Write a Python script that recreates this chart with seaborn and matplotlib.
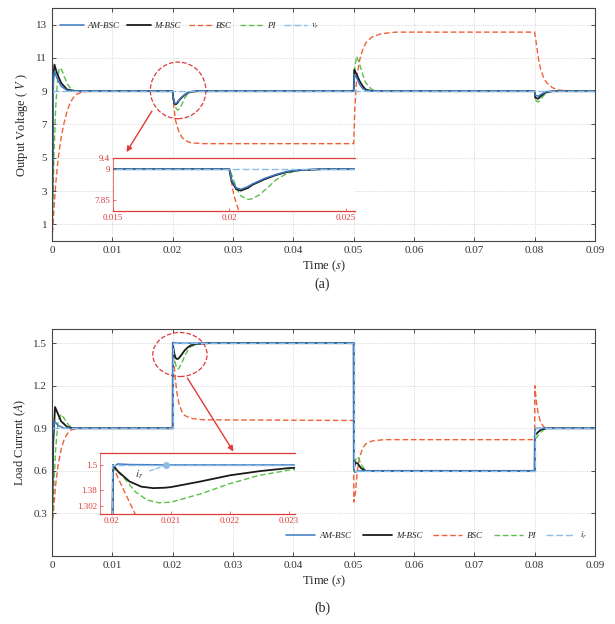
import matplotlib
matplotlib.use("Agg")
import matplotlib.pyplot as plt
from matplotlib.patches import Ellipse
from matplotlib.font_manager import FontProperties
import seaborn as sns

# ---------------- data: output voltage (a) ----------------
t_ref_v = [0, 0.09]
v_ref = [9, 9]

t_am_v = [0, 0.0002, 0.0004, 0.0008, 0.0015, 0.0025, 0.004, 0.02, 0.0201, 0.0203, 0.0205, 0.0208,
          0.021, 0.0215, 0.022, 0.0225, 0.023, 0.024, 0.05, 0.0501, 0.0505, 0.051, 0.0515, 0.052,
          0.053, 0.08, 0.0801, 0.0806, 0.081, 0.0815, 0.082, 0.083, 0.09]
v_am = [0, 9.5, 10.2, 9.8, 9.3, 9.05, 9.0, 9.0, 8.6, 8.3, 8.25, 8.35,
        8.45, 8.65, 8.8, 8.92, 8.97, 9.0, 9.0, 10.0, 9.8, 9.4, 9.15, 9.05,
        9.0, 9.0, 8.75, 8.7, 8.8, 8.9, 8.97, 9.0, 9.0]

t_m_v = [0, 0.0002, 0.0004, 0.0008, 0.0015, 0.0025, 0.004, 0.02, 0.0201, 0.0203, 0.0205, 0.0208,
         0.021, 0.0215, 0.022, 0.0225, 0.023, 0.024, 0.05, 0.0501, 0.0505, 0.051, 0.0515, 0.052,
         0.053, 0.054, 0.08, 0.0801, 0.0806, 0.081, 0.0815, 0.082, 0.083, 0.09]
v_m = [0, 9.8, 10.6, 10.1, 9.5, 9.1, 9.0, 9.0, 8.55, 8.25, 8.2, 8.3,
       8.42, 8.62, 8.78, 8.9, 8.96, 9.0, 9.0, 10.3, 10.0, 9.6, 9.3, 9.1,
       9.01, 9.0, 9.0, 8.6, 8.55, 8.7, 8.85, 8.95, 9.0, 9.0]

t_bsc_v = [0, 0.0003, 0.0006, 0.001, 0.0015, 0.002, 0.0025, 0.003, 0.0035, 0.004, 0.005, 0.006,
           0.02, 0.0202, 0.0205, 0.021, 0.0215, 0.022, 0.023, 0.025, 0.05, 0.0502, 0.0505, 0.051,
           0.0515, 0.052, 0.053, 0.0545, 0.057, 0.08, 0.0803, 0.0806, 0.081, 0.0815, 0.082, 0.083,
           0.084, 0.086, 0.09]
v_bsc = [0, 1.8, 3.4, 4.9, 6.2, 7.1, 7.8, 8.3, 8.6, 8.8, 8.95, 9.0,
         9.0, 8.0, 7.2, 6.6, 6.25, 6.05, 5.9, 5.85, 5.85, 8.0, 9.8, 10.9,
         11.5, 11.9, 12.25, 12.45, 12.55, 12.55, 11.8, 11.0, 10.3, 9.8, 9.5, 9.2,
         9.07, 9.0, 9.0]

t_pi_v = [0, 0.0003, 0.0006, 0.0009, 0.0012, 0.0016, 0.002, 0.0026, 0.0032, 0.004, 0.02, 0.0201,
          0.0203, 0.0205, 0.0208, 0.021, 0.0213, 0.0217, 0.022, 0.0225, 0.023, 0.024, 0.05, 0.0502,
          0.0505, 0.051, 0.0515, 0.052, 0.053, 0.054, 0.08, 0.0802, 0.0806, 0.081, 0.0815, 0.082,
          0.083, 0.09]
v_pi = [0, 5.0, 8.0, 9.6, 10.4, 10.3, 9.9, 9.4, 9.1, 9.0, 9.0, 8.8,
        8.3, 8.0, 7.87, 7.9, 8.05, 8.35, 8.6, 8.85, 8.96, 9.0, 9.0, 10.5,
        11.1, 10.6, 10.0, 9.5, 9.1, 9.0, 9.0, 8.45, 8.35, 8.5, 8.75, 8.9,
        9.0, 9.0]

# ---------------- data: load current (b) ----------------
t_ref_i = [0, 0.02, 0.02, 0.05, 0.05, 0.08, 0.08, 0.09]
i_ref = [0.9, 0.9, 1.5, 1.5, 0.6, 0.6, 0.9, 0.9]

t_am_i = [0, 0.0001, 0.0004, 0.001, 0.002, 0.02, 0.02002, 0.0201, 0.0203, 0.021, 0.05, 0.05002,
          0.0502, 0.0508, 0.08, 0.08002, 0.0802, 0.09]
i_am = [0.15, 0.85, 0.95, 0.92, 0.9, 0.9, 1.49, 1.505, 1.502, 1.5, 1.5, 0.62,
        0.59, 0.6, 0.6, 0.88, 0.9, 0.9]

t_m_i = [0, 0.0002, 0.0005, 0.001, 0.0015, 0.0025, 0.0035, 0.02, 0.02002, 0.0201, 0.0203, 0.0205,
         0.0207, 0.0209, 0.021, 0.0215, 0.022, 0.0225, 0.023, 0.024, 0.026, 0.05, 0.05002, 0.0503,
         0.0507, 0.0512, 0.052, 0.08, 0.08002, 0.0805, 0.081, 0.082, 0.09]
i_m = [0.2, 0.8, 1.05, 1.0, 0.95, 0.91, 0.9, 0.9, 1.5, 1.47, 1.42, 1.395,
       1.388, 1.39, 1.393, 1.42, 1.45, 1.47, 1.485, 1.495, 1.5, 1.5, 0.62, 0.66,
       0.65, 0.62, 0.6, 0.6, 0.85, 0.87, 0.89, 0.9, 0.9]

t_bsc_i = [0, 0.0003, 0.0006, 0.001, 0.0015, 0.002, 0.0025, 0.003, 0.004, 0.02, 0.02002, 0.0202,
           0.0204, 0.0207, 0.021, 0.0215, 0.022, 0.023, 0.025, 0.05, 0.05002, 0.0503, 0.0506, 0.051,
           0.0515, 0.052, 0.053, 0.055, 0.08, 0.08002, 0.0803, 0.0806, 0.081, 0.0815, 0.082, 0.09]
i_bsc = [0.2, 0.35, 0.5, 0.64, 0.75, 0.82, 0.86, 0.885, 0.9, 0.9, 1.49, 1.38,
         1.26, 1.15, 1.08, 1.02, 0.99, 0.97, 0.96, 0.955, 0.38, 0.45, 0.6, 0.7,
         0.76, 0.79, 0.81, 0.82, 0.82, 1.2, 1.08, 1.0, 0.94, 0.91, 0.9, 0.9]

t_pi_i = [0, 0.0003, 0.0006, 0.001, 0.0015, 0.002, 0.0028, 0.0035, 0.02, 0.02002, 0.0202, 0.0204,
          0.0206, 0.0208, 0.021, 0.0215, 0.022, 0.0225, 0.023, 0.024, 0.026, 0.05, 0.05002, 0.0503,
          0.0507, 0.0512, 0.0518, 0.0525, 0.08, 0.08002, 0.0804, 0.081, 0.0815, 0.082, 0.09]
i_pi = [0.2, 0.5, 0.75, 0.95, 1.0, 0.97, 0.92, 0.9, 0.9, 1.49, 1.44, 1.37,
        1.33, 1.317, 1.32, 1.36, 1.41, 1.45, 1.475, 1.495, 1.5, 1.5, 0.6, 0.68,
        0.7, 0.65, 0.61, 0.6, 0.6, 0.82, 0.84, 0.87, 0.89, 0.9, 0.9]

x_ticks = [0, 0.01, 0.02, 0.03, 0.04, 0.05, 0.06, 0.07, 0.08, 0.09]
x_ticklabels = ["0", "0.01", "0.02", "0.03", "0.04", "0.05", "0.06", "0.07", "0.08", "0.09"]
v_ticks = [1, 3, 5, 7, 9, 11, 13]
i_ticks = [0.3, 0.6, 0.9, 1.2, 1.5]
inset_v_ticks = [7.85, 9, 9.4]
inset_v_ticklabels = ["7.85", "9", "9.4"]
inset_v_xticks = [0.015, 0.02, 0.025]
inset_v_xticklabels = ["0.015", "0.02", "0.025"]
inset_i_ticks = [1.302, 1.38, 1.5]
inset_i_ticklabels = ["1.302", "1.38", "1.5"]
inset_i_xticks = [0.02, 0.021, 0.022, 0.023]
inset_i_xticklabels = ["0.02", "0.021", "0.022", "0.023"]

# ---------------- style ----------------
sns.set_theme(style="ticks")
plt.rcParams["font.family"] = ["Liberation Serif", "DejaVu Serif"]
plt.rcParams["mathtext.fontset"] = "stix"
plt.rcParams["xtick.direction"] = "in"
plt.rcParams["ytick.direction"] = "in"

C_AM = "#3a78c2"
C_M = "#1a1a1a"
C_BSC = "#f0603a"
C_PI = "#5cbf4a"
C_REF = "#8dbde6"
RED = "#e03a3a"

fig = plt.figure(figsize=(6.15, 6.24), dpi=100)
ax1 = fig.add_axes([0.0846, 0.6138, 0.8829, 0.3734])
ax2 = fig.add_axes([0.0846, 0.109, 0.8829, 0.3638])


def draw_series(ax, series):
    handles = []
    for t, y, c, ls, lab, w in series:
        sns.lineplot(x=t, y=y, ax=ax, color=c, linestyle=ls, linewidth=w, estimator=None,
                     sort=False, legend=False)
        handles.append((ax.lines[-1], lab))
    return handles


def series_v():
    return [
        (t_bsc_v, v_bsc, C_BSC, (0, (4, 2)), "BSC", 1.0),
        (t_pi_v, v_pi, C_PI, (0, (4, 2)), "PI", 1.0),
        (t_m_v, v_m, C_M, "-", "M-BSC", 1.3),
        (t_am_v, v_am, C_AM, "-", "AM-BSC", 1.1),
        (t_ref_v, v_ref, C_REF, (0, (5, 2)), "$v_r$", 1.0),
    ]


def series_i():
    return [
        (t_bsc_i, i_bsc, C_BSC, (0, (4, 2)), "BSC", 1.0),
        (t_pi_i, i_pi, C_PI, (0, (4, 2)), "PI", 1.0),
        (t_m_i, i_m, C_M, "-", "M-BSC", 1.3),
        (t_am_i, i_am, C_AM, "-", "AM-BSC", 1.1),
        (t_ref_i, i_ref, C_REF, (0, (5, 2)), "$i_r$", 1.0),
    ]


def style_main(ax, yticks, ylim, ylabel):
    ax.set_xlim(0, 0.09)
    ax.set_ylim(*ylim)
    ax.set_xticks(x_ticks)
    ax.set_xticklabels(x_ticklabels)
    ax.set_yticks(yticks)
    ax.set_yticklabels([("%g" % v) for v in yticks])
    ax.tick_params(axis="both", labelsize=8, length=3, width=0.6, top=True, right=True,
                   colors="#333333")
    ax.grid(True, linestyle=":", color="#c8c8c8", linewidth=0.6)
    for s in ax.spines.values():
        s.set_color("#444444")
        s.set_linewidth(0.8)
    ax.set_xlabel("Time ($s$)", fontsize=9, labelpad=3)
    ax.set_ylabel(ylabel, fontsize=9, labelpad=4)


leg_font = FontProperties(family="Liberation Serif", style="italic", size=6.5)

# ---- panel (a)
h1 = draw_series(ax1, series_v())
style_main(ax1, v_ticks, (0, 14), "Output Voltage ( $V$ )")
order = ["AM-BSC", "M-BSC", "BSC", "PI", "$v_r$"]
hd = dict((lab, h) for h, lab in h1)
ax1.legend([hd[k] for k in order], order, ncol=5, loc="upper left", bbox_to_anchor=(0.0, 0.975),
           frameon=False, prop=leg_font, handlelength=2.6, columnspacing=0.9, handletextpad=0.4)

ax1.add_patch(Ellipse((0.0209, 9.05), 0.0092, 3.4, fill=False, edgecolor=RED, linestyle="--",
                      linewidth=0.9))
ax1.annotate("", xy=(0.0121, 5.2), xytext=(0.0168, 7.95),
             arrowprops=dict(arrowstyle="-|>", color=RED, lw=1.0, mutation_scale=8))

ins1 = fig.add_axes([0.1837, 0.6619, 0.3935, 0.0850])
ins1.set_facecolor("white")
draw_series(ins1, series_v())
ins1.set_xlim(0.015, 0.0254)
ins1.set_ylim(7.44, 9.42)
ins1.set_xticks(inset_v_xticks)
ins1.set_xticklabels(inset_v_xticklabels)
ins1.set_yticks(inset_v_ticks)
ins1.set_yticklabels(inset_v_ticklabels)

# ---- panel (b)
h2 = draw_series(ax2, series_i())
style_main(ax2, i_ticks, (0, 1.6), "Load Current ($A$)")
order2 = ["AM-BSC", "M-BSC", "BSC", "PI", "$i_r$"]
hd2 = dict((lab, h) for h, lab in h2)
ax2.legend([hd2[k] for k in order2], order2, ncol=5, loc="lower right",
           bbox_to_anchor=(1.0, 0.03), frameon=False, prop=leg_font, handlelength=3.2,
           columnspacing=1.2, handletextpad=0.5)

ax2.add_patch(Ellipse((0.0212, 1.42), 0.009, 0.31, fill=False, edgecolor=RED, linestyle="--",
                      linewidth=0.9))
ax2.annotate("", xy=(0.0303, 0.72), xytext=(0.0222, 1.27),
             arrowprops=dict(arrowstyle="-|>", color=RED, lw=1.0, mutation_scale=8))

ins2 = fig.add_axes([0.1626, 0.1763, 0.317, 0.0978])
ins2.set_facecolor("white")
draw_series(ins2, series_i())
ins2.set_xlim(0.0198, 0.0231)
ins2.set_ylim(1.263, 1.558)
ins2.set_xticks(inset_i_xticks)
ins2.set_xticklabels(inset_i_xticklabels)
ins2.set_yticks(inset_i_ticks)
ins2.set_yticklabels(inset_i_ticklabels)
ins2.plot([0.02092], [1.5], marker="o", markersize=4, color=C_REF)
ins2.annotate("$i_r$", xy=(0.02092, 1.5), xytext=(0.0204, 1.44), fontsize=8, color="#333333",
              arrowprops=dict(arrowstyle="-", color=C_REF, lw=0.9, linestyle="--"))

for ins in (ins1, ins2):
    ins.tick_params(axis="both", labelsize=6.5, length=2, width=0.5, colors=RED,
                    labelcolor=RED, pad=2)
    ins.set_xlabel("")
    ins.set_ylabel("")
    for s in ins.spines.values():
        s.set_color(RED)
        s.set_linewidth(0.9)
    ins.spines["left"].set_linewidth(0.5)
    ins.spines["right"].set_visible(False)

fig.text(0.5236, 0.545, "(a)", ha="center", va="center", fontsize=10)
fig.text(0.5236, 0.025, "(b)", ha="center", va="center", fontsize=10)

fig.savefig("out.png", dpi=100, facecolor="white")
